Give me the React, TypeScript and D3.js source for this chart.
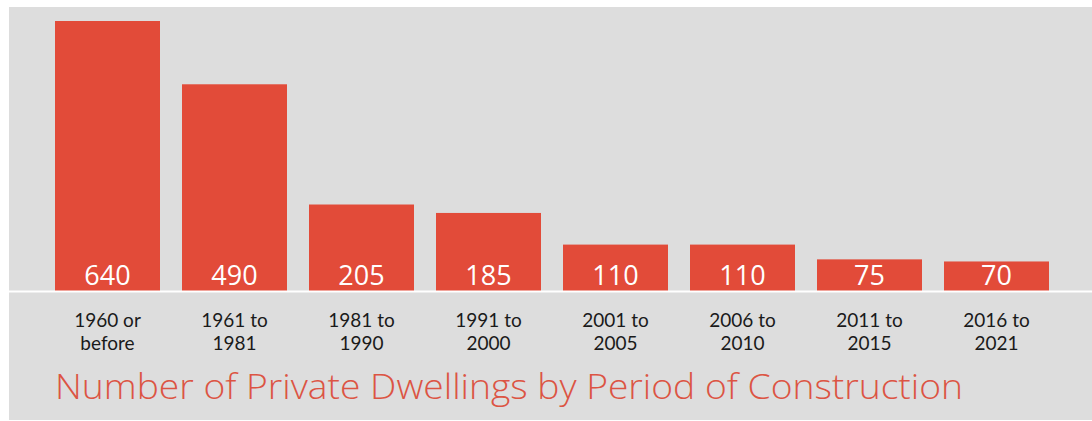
import React from "react";
import * as d3 from "d3";

const categories: string[][] = [
  ["1960 or", "before"],
  ["1961 to", "1981"],
  ["1981 to", "1990"],
  ["1991 to", "2000"],
  ["2001 to", "2005"],
  ["2006 to", "2010"],
  ["2011 to", "2015"],
  ["2016 to", "2021"],
];
const values: number[] = [640, 490, 205, 185, 110, 110, 75, 70];
const title = "Number of Private Dwellings by Period of Construction";

const W = 1092;
const H = 421;
const BAR = "#e24b39";
const FONT = "'Open Sans', 'Noto Sans', sans-serif";
const LABEL_FONT = "Lato, 'Open Sans', sans-serif";

export default function App() {
  const keys = categories.map((c) => c.join(" "));
  const x = d3
    .scaleBand<string>()
    .domain(keys)
    .range([44, 1060])
    .paddingInner(0.1732)
    .paddingOuter(0.0866);
  const y = d3.scaleLinear().domain([0, 640]).range([291, 21]);

  return (
    <svg
      width={W}
      height={H}
      style={{ position: "absolute", left: 0, top: 0, display: "block" }}
    >
      <rect x={0} y={0} width={W} height={H} fill="#ffffff" />
      <rect x={9} y={7} width={W - 9} height={413} fill="#dddddd" />
      {values.map((v, i) => {
        const k = keys[i];
        const bx = x(k)!;
        const cx = bx + x.bandwidth() / 2;
        return (
          <g key={k}>
            <rect
              x={bx}
              y={y(v)}
              width={x.bandwidth()}
              height={y(0) - y(v)}
              fill={BAR}
            />
            <text
              x={cx}
              y={285}
              textAnchor="middle"
              fill="#ffffff"
              fontFamily={FONT}
              fontWeight={400}
              fontSize={27}
            >
              {v}
            </text>
            {categories[i].map((line, j) => (
              <text
                key={j}
                x={cx}
                y={326.5 + j * 23}
                textAnchor="middle"
                fill="#1a1a1a"
                fontFamily={LABEL_FONT}
                fontSize={19}
              >
                {line}
              </text>
            ))}
          </g>
        );
      })}
      <line x1={9} x2={W} y1={291.5} y2={291.5} stroke="#ffffff" strokeWidth={2} />
      <text
        x={55}
        y={399}
        fill="#dc5443"
        fontFamily={FONT}
        fontWeight={300}
        fontSize={35}
        textLength={908}
        lengthAdjust="spacingAndGlyphs"
      >
        {title}
      </text>
    </svg>
  );
}
